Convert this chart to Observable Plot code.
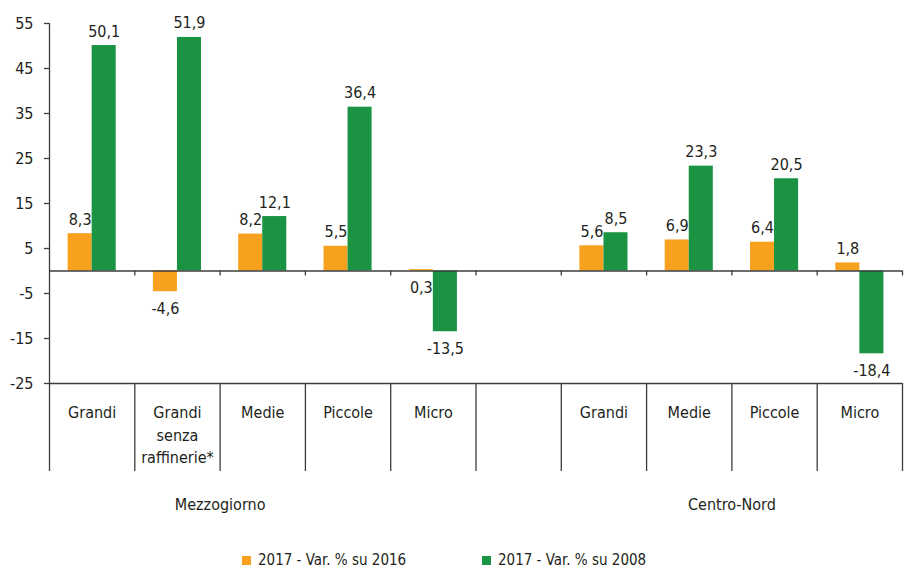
<!DOCTYPE html>
<html><head><meta charset="utf-8">
<script src="https://cdn.jsdelivr.net/npm/d3@7"></script>
<script src="https://cdn.jsdelivr.net/npm/@observablehq/plot@0.6"></script>
<style>
body{margin:0;background:#fff;font-family:"Liberation Sans Narrow","DejaVu Sans Condensed",sans-serif;color:#231f20;}
#chart{width:907px;height:571px;position:relative;overflow:hidden;}
.legend{position:relative;height:31px;font-size:15px;}
.item{position:absolute;top:12px;display:flex;align-items:center;white-space:nowrap;line-height:17px;}
.sw{width:9px;height:9px;margin-right:7px;}
</style></head>
<body><div id="chart"></div>
<script>
const categories = ["Grandi","Grandi\nsenza\nraffinerie*","Medie","Piccole","Micro","","Grandi","Medie","Piccole","Micro"];
const groups = ["Mezzogiorno","Centro-Nord"];
const groupBoundary = [2, 8];
const series = ["2017 - Var. % su 2016","2017 - Var. % su 2008"];
const var2016 = [8.3,-4.6,8.2,5.5,0.3,null,5.6,6.9,6.4,1.8];
const var2008 = [50.1,51.9,12.1,36.4,-13.5,null,8.5,23.3,20.5,-18.4];
const labelBelow2016 = [false,false,false,false,true,false,false,false,false,false];
const yTicks = [-25,-15,-5,5,15,25,35,45,55];
const colors = ["#f7a11e","#1a9342"];

const W = 0.282;
const rows = [];
categories.forEach((c,i)=>{
  [var2016, var2008].forEach((arr,k)=>{
    const v = arr[i]; if (v == null) return;
    rows.push({i, k, series: series[k], value: v, below: v < 0 || (k === 0 && labelBelow2016[i])});
  });
});
const x1 = d => d.i + 0.5 + (d.k === 0 ? -W : 0);
const x2 = d => d.i + 0.5 + (d.k === 0 ? 0 : W);
const xc = d => d.i + 0.5 + (d.k === 0 ? -W/2 : W/2);
const fmt = v => (v < 0 ? "-" : "") + Math.abs(v).toFixed(1).replace(".", ",");
const axisColor = "#3c3c3c";
const n = categories.length;

const plot = Plot.plot({
  width: 907, height: 540,
  marginLeft: 49, marginRight: 5, marginTop: 23, marginBottom: 157,
  style: {fontFamily: '"Liberation Sans Narrow","DejaVu Sans Condensed",sans-serif', fontSize: "16px", color: "#231f20", background: "white"},
  x: {type: "linear", domain: [0, n], axis: null},
  y: {domain: [-25, 55], axis: null},
  color: {domain: series, range: colors},
  marks: [
    Plot.rectY(rows, {x1, x2, y: "value", fill: "series"}),
    Plot.ruleY([0, -25], {stroke: axisColor, strokeWidth: 1.3}),
    Plot.ruleX([0], {stroke: axisColor, strokeWidth: 1.3}),
    Plot.ruleX(d3.range(1, n + 1), {x: d => d, y1: 0, y2: -1.1, stroke: axisColor, strokeWidth: 1.3}),
    Plot.axisX(d3.range(0, n + 1), {anchor: "bottom", tickSize: 88, tickFormat: () => "", label: null, stroke: axisColor, strokeWidth: 1.3}),
    Plot.axisY(yTicks, {anchor: "left", tickSize: 5, tickPadding: 11, label: null, tickFormat: d => String(d), fontSize: 16, stroke: axisColor, strokeWidth: 1.3}),
    Plot.text(rows.filter(d => !d.below), {x: xc, y: "value", text: d => fmt(d.value), lineAnchor: "bottom", dy: -9, fontSize: 16}),
    Plot.text(rows.filter(d => d.below), {x: xc, y: d => Math.min(d.value, 0), text: d => fmt(d.value), lineAnchor: "top", dy: 11, fontSize: 16}),
    Plot.text(categories.map((c, i) => ({c, i})), {x: d => d.i + 0.5, text: "c", frameAnchor: "bottom", lineAnchor: "top", dy: 19, fontSize: 16, lineHeight: 1.4}),
    Plot.text(groups, {x: (d, i) => groupBoundary[i], text: d => d, frameAnchor: "bottom", dy: 126, fontSize: 16})
  ]
});
const chart = document.getElementById("chart");
chart.appendChild(plot);
const legend = document.createElement("div");
legend.className = "legend";
const lefts = [242, 482];
series.forEach((s, k) => {
  const it = document.createElement("div");
  it.className = "item";
  it.style.left = lefts[k] + "px";
  it.innerHTML = `<span class="sw" style="background:${colors[k]}"></span><span>${s}</span>`;
  legend.appendChild(it);
});
chart.appendChild(legend);
</script>
</body></html>
